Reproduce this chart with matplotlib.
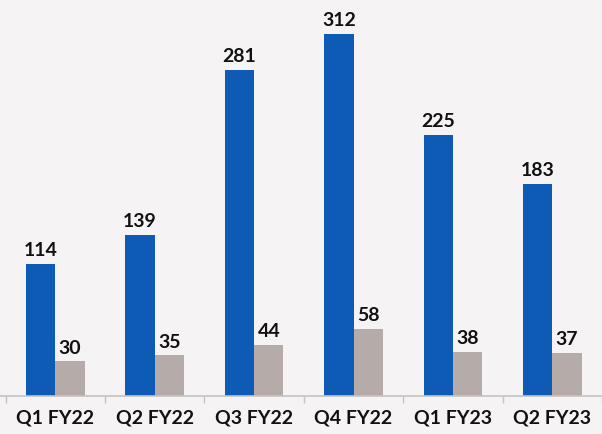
import matplotlib.pyplot as plt
import numpy as np

quarters = ["Q1 FY22", "Q2 FY22", "Q3 FY22", "Q4 FY22", "Q1 FY23", "Q2 FY23"]
blue_vals = [114, 139, 281, 312, 225, 183]
gray_vals = [30, 35, 44, 58, 38, 37]

plt.rcParams['font.family'] = ['Lato', 'DejaVu Sans']

bg = "#f5f3f3"
fig = plt.figure(figsize=(6.02, 4.34), dpi=100, facecolor=bg)
ax = fig.add_axes([0, 0.0876, 1, 0.9124], facecolor=bg)

x = np.arange(len(quarters))
w = 0.295
b1 = ax.bar(x - w / 2, blue_vals, w, color="#0d5bb5")
b2 = ax.bar(x + w / 2, gray_vals, w, color="#b5acaa")

for bars, vals in ((b1, blue_vals), (b2, gray_vals)):
    for r, v in zip(bars, vals):
        ax.text(r.get_x() + r.get_width() / 2, v + 4, str(v), ha="center", va="bottom",
                fontsize=14, fontweight="bold", color="#111111")

ax.set_xlim(-0.557, 5.44)
ax.set_ylim(0, 341.4)

for s in ("top", "right", "left"):
    ax.spines[s].set_visible(False)
ax.spines["bottom"].set_color("#c4c2c2")
ax.spines["bottom"].set_linewidth(1.2)

# small separators between the quarters
ax.set_xticks(np.arange(-0.5, len(quarters), 1.0))
ax.set_xticklabels([])
ax.tick_params(axis="x", length=5, color="#c4c2c2", width=1)
ax.set_xticks(x, minor=True)
ax.set_xticklabels(quarters, minor=True, fontsize=14, fontweight="bold", color="#111111")
ax.tick_params(axis="x", which="minor", length=0, pad=10)
ax.set_yticks([])

fig.savefig("out.png", dpi=100, facecolor=bg)
